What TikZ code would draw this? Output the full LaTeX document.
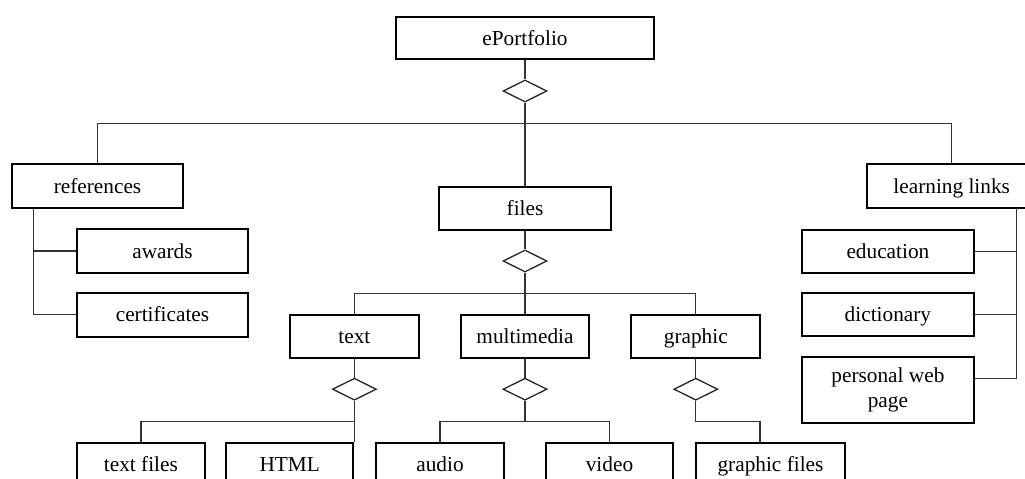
\documentclass[tikz,border=0pt]{standalone}
\usepackage{fontspec}
\setmainfont{Liberation Serif}
\usetikzlibrary{shapes.geometric}
\begin{document}
\begin{tikzpicture}[x=1pt,y=-1pt,
  boxbase/.style={draw=black,line width=1.9pt,inner sep=0pt,align=center,
    font=\fontsize{21.3}{25}\selectfont},
  box/.style={boxbase,text height=18pt,text depth=4pt},
  dia/.style={draw=black!85,line width=1.3pt,diamond,inner sep=0pt,
    minimum width=44pt,minimum height=22pt},
  conn/.style={draw=black!80,line width=1.3pt}]
\useasboundingbox (0,0) rectangle (1025,479);
\clip (0,0) rectangle (1025,479);
% nodes
\node[box,minimum width=258pt,minimum height=42.3pt] (ep) at (525,38.2) {ePortfolio};
\node[dia] (d1) at (525,91) {};
\node[box,minimum width=171.6pt,minimum height=44pt] (ref) at (97.5,186.3) {references};
\node[box,minimum width=171.7pt,minimum height=43.3pt] (files) at (525,208.3) {files};
\node[box,minimum width=170pt,minimum height=44pt] (ll) at (951.7,186.3) {learning links};
\node[box,minimum width=171.6pt,minimum height=43.4pt] (awards) at (162.5,251) {awards};
\node[box,minimum width=171.6pt,minimum height=44pt] (cert) at (162.5,314.7) {certificates};
\node[box,minimum width=172.3pt,minimum height=42.7pt] (educ) at (887.9,251.3) {education};
\node[box,minimum width=172.3pt,minimum height=43.3pt] (dict) at (887.9,314.3) {dictionary};
\node[boxbase,minimum width=172.3pt,minimum height=65.4pt] (pwp) at (887.9,390) {\raisebox{-3pt}{personal web}\\\raisebox{-3pt}{page}};
\node[dia] (d2) at (525,261) {};
\node[box,minimum width=129pt,minimum height=43.3pt] (text) at (354.4,336.7) {text};
\node[box,minimum width=127.3pt,minimum height=43.3pt] (mm) at (525,336.7) {multimedia};
\node[box,minimum width=129pt,minimum height=43.3pt] (graphic) at (695.8,336.7) {graphic};
\node[dia] (d3) at (354.4,389.2) {};
\node[dia] (d4) at (525,389.2) {};
\node[dia] (d5) at (695.8,389.2) {};
\node[box,minimum width=128.3pt,minimum height=44pt] (tf) at (140.9,464.7) {text files};
\node[box,minimum width=127.3pt,minimum height=44pt] (html) at (289.7,464.7) {HTML};
\node[box,minimum width=128pt,minimum height=44pt] (audio) at (440,464.7) {audio};
\node[box,minimum width=127.6pt,minimum height=44pt] (video) at (609.5,464.7) {video};
\node[box,minimum width=149pt,minimum height=44pt] (gf) at (770.5,464.7) {graphic files};
% helper coordinates
\coordinate (h1) at (525,123.3);
\coordinate (refv) at (33.3,208.3);
\coordinate (llv) at (1016.7,208.3);
\coordinate (pwpc) at (974,378.3);
\coordinate (h2) at (525,293.3);
\coordinate (h3) at (354.4,421.7);
\coordinate (h4) at (525,421.7);
\coordinate (g1) at (695.8,421.7);
\coordinate (g2) at (760,421.7);
% connectors
\draw[conn] (ep.south) -- (d1.north);
\draw[conn] (d1.south) -- (files.north);
\draw[conn] (ref.north) |- (h1) -| (ll.north);
\draw[conn] (refv) |- (cert.west);
\draw[conn] (refv |- awards.west) -- (awards.west);
\draw[conn] (llv) |- (pwpc);
\draw[conn] (llv |- educ.east) -- (educ.east);
\draw[conn] (llv |- dict.east) -- (dict.east);
\draw[conn] (files.south) -- (d2.north);
\draw[conn] (d2.south) -- (mm.north);
\draw[conn] (text.north) |- (h2) -| (graphic.north);
\draw[conn] (text.south) -- (d3.north);
\draw[conn] (mm.south) -- (d4.north);
\draw[conn] (graphic.south) -- (d5.north);
\draw[conn] (d3.south) -- (d3.south |- html.north);
\draw[conn] (tf.north) |- (h3);
\draw[conn] (d4.south) -- (h4);
\draw[conn] (audio.north) |- (h4) -| (video.north);
\draw[conn] (d5.south) -- (g1) -- (g2) -- (g2 |- gf.north);
\end{tikzpicture}
\end{document}
